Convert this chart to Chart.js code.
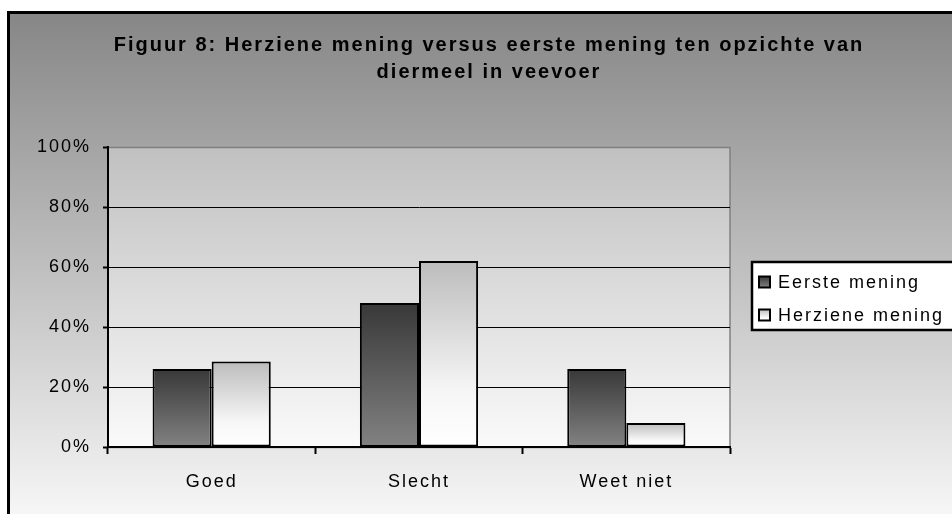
<!DOCTYPE html>
<html>
<head>
<meta charset="utf-8">
<script src="https://cdn.jsdelivr.net/npm/chart.js@4/dist/chart.umd.min.js"></script>
<style>
  html, body { margin: 0; padding: 0; background: #fff; }
  canvas { display: block; }
</style>
</head>
<body>
<canvas id="chart" width="952" height="514"></canvas>
<script>
const categories = ["Goed", "Slecht", "Weet niet"];
const seriesNames = ["Eerste mening", "Herziene mening"];
const eersteMening = [26, 48, 26];
const herzieneMening = [28.5, 62, 8];
const yTicks = [0, 20, 40, 60, 80, 100];
const titleLines = ["Figuur 8: Herziene mening versus eerste mening ten opzichte van", "diermeel in veevoer"];

const FONT = "'Liberation Sans', Arial, sans-serif";
const darkStops = [[0, "#383838"], [1, "#828282"]];
const lightStops = [[0, "#bcbcbc"], [0.7, "#f6f6f6"], [1, "#ffffff"]];

function makeGradient(ctx, y0, y1, stops) {
  const g = ctx.createLinearGradient(0, y0, 0, y1);
  stops.forEach(s => g.addColorStop(s[0], s[1]));
  return g;
}

// every bar gets its own gradient from its top down to the base line
function barFill(stops) {
  return (c) => {
    const chart = c.chart;
    const y = chart.scales.y;
    if (c.type !== "data" || !chart.chartArea || !y) return stops[0][1];
    const top = y.getPixelForValue(c.raw);
    const base = y.getPixelForValue(0);
    return makeGradient(chart.ctx, top, base, stops);
  };
}

const backdrop = {
  id: "backdrop",
  beforeDraw(chart) {
    const { ctx, chartArea: a } = chart;
    ctx.save();
    // outer chart area
    ctx.fillStyle = makeGradient(ctx, 12, 514, [[0, "#868686"], [1, "#f6f6f6"]]);
    ctx.fillRect(8, 12, 960, 520);
    ctx.lineWidth = 3;
    ctx.strokeStyle = "#000";
    ctx.strokeRect(8.5, 12.5, 960, 520);
    // plot area
    ctx.fillStyle = makeGradient(ctx, a.top, a.bottom, [[0, "#c0c0c0"], [1, "#fafafa"]]);
    ctx.fillRect(a.left, a.top, a.right - a.left, a.bottom - a.top);
    ctx.lineWidth = 1.5;
    ctx.strokeStyle = "#808080";
    ctx.strokeRect(a.left, a.top + 0.5, a.right - a.left, a.bottom - a.top);
    // title, centred on the whole chart box rather than the plot
    ctx.fillStyle = "#000";
    ctx.font = "bold 20px " + FONT;
    ctx.letterSpacing = "2px";
    ctx.textAlign = "center";
    ctx.textBaseline = "middle";
    titleLines.forEach((t, i) => ctx.fillText(t, 489, 45 + i * 27));
    ctx.restore();
    ctx.letterSpacing = "2px";
  },
  afterDraw(chart) {
    const { ctx, chartArea: a } = chart;
    const mid = (a.top + a.bottom) / 2;
    const left = a.right + 22, top = mid - 35;
    ctx.save();
    ctx.fillStyle = "#fff";
    ctx.fillRect(left, top, 240, 68);
    ctx.lineWidth = 2.5;
    ctx.strokeStyle = "#000";
    ctx.strokeRect(left, top, 240, 68);
    const stops = [darkStops, lightStops];
    chart.data.datasets.forEach((ds, i) => {
      const cy = top + 20 + i * 33;
      const s = 11;
      ctx.fillStyle = makeGradient(ctx, cy - s / 2, cy + s / 2, stops[i]);
      ctx.fillRect(left + 7, cy - s / 2, s, s);
      ctx.lineWidth = 2;
      ctx.strokeStyle = "#000";
      ctx.strokeRect(left + 7, cy - s / 2, s, s);
      ctx.fillStyle = "#000";
      ctx.font = "18px " + FONT;
      ctx.textAlign = "left";
      ctx.textBaseline = "middle";
      ctx.fillText(ds.label, left + 26, cy + 1);
    });
    ctx.restore();
  }
};

new Chart(document.getElementById("chart"), {
  type: "bar",
  data: {
    labels: categories,
    datasets: [
      {
        label: seriesNames[0],
        data: eersteMening,
        backgroundColor: barFill(darkStops),
        borderColor: "#000",
        borderWidth: 2,
        borderSkipped: false,
        categoryPercentage: 0.57,
        barPercentage: 1.0
      },
      {
        label: seriesNames[1],
        data: herzieneMening,
        backgroundColor: barFill(lightStops),
        borderColor: "#000",
        borderWidth: 2,
        borderSkipped: false,
        categoryPercentage: 0.57,
        barPercentage: 1.0
      }
    ]
  },
  options: {
    responsive: false,
    animation: false,
    events: [],
    layout: { padding: { top: 147, left: 8, right: 222, bottom: 0 } },
    plugins: {
      legend: { display: false },
      tooltip: { enabled: false },
      title: { display: false }
    },
    scales: {
      x: {
        afterFit: (s) => { s.height = 67; },
        grid: {
          offset: true,
          drawOnChartArea: false,
          tickLength: 7,
          tickWidth: 2,
          tickColor: "#000"
        },
        border: { color: "#000", width: 2 },
        ticks: {
          color: "#000",
          padding: 17,
          font: { family: FONT, size: 18 }
        }
      },
      y: {
        min: 0,
        max: 100,
        afterFit: (s) => { s.width = 100; },
        afterBuildTicks: (s) => { s.ticks = yTicks.map(v => ({ value: v })); },
        grid: {
          color: (c) => (c.tick && c.tick.value === 100 ? "#808080" : "#000"),
          lineWidth: 1,
          tickLength: 5,
          tickWidth: 2,
          tickColor: "#000"
        },
        border: { color: "#000", width: 2 },
        ticks: {
          color: "#000",
          padding: 12,
          font: { family: FONT, size: 18 },
          callback: (v) => v + "%"
        }
      }
    }
  },
  plugins: [backdrop]
});
</script>
</body>
</html>
